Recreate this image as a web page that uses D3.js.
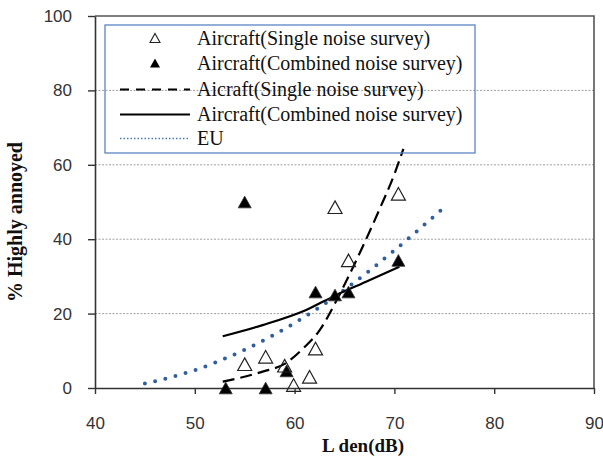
<!DOCTYPE html>
<html lang="en">
<head>
<meta charset="UTF-8">
<title>% Highly annoyed vs Lden</title>
<script src="https://d3js.org/d3.v7.min.js"></script>
<style>
    body { margin: 0; background: #fff; }
    svg { display: block; }
    .tick text { font-family: "Liberation Sans", Arial, sans-serif; font-size: 17px; fill: #333; }
    .legend text { font-family: "Liberation Serif", "Times New Roman", serif; font-size: 20px; fill: #111; }
    .axis-title { font-family: "Liberation Serif", "Times New Roman", serif; font-weight: bold; font-size: 19px; fill: #111; }
</style>
</head>
<body>
<div id="chart"></div>
<script>
    // observed points (Lden dB, %HA)
    const singleX = [55.0, 57.1, 59.0, 59.9, 61.5, 62.1, 65.4, 64.05, 70.4];
    const singleY = [6.4, 8.4, 6.0, 0.8, 3.0, 10.6, 34.3, 48.6, 52.2];
    const combinedX = [55.0, 53.1, 57.1, 59.2, 62.1, 64.05, 65.4, 70.4];
    const combinedY = [50.0, 0.0, 0.0, 4.6, 25.8, 25.0, 25.8, 34.3];

    // fitted curves
    const singleFitX = [52.8, 56.8, 59.0, 61.0, 62.5, 64.0, 65.5, 67.0, 68.5, 70.0, 70.9];
    const singleFitY = [1.7, 4.4, 6.5, 11.0, 15.5, 22.5, 30.5, 39.0, 48.0, 57.5, 64.3];
    const combinedFitX = [52.8, 56.8, 61.1, 64.1, 67.1, 70.5];
    const combinedFitY = [13.9, 16.9, 20.9, 24.9, 28.5, 32.6];
    const euX = [45, 50, 55, 60, 65, 70, 75];
    const euY = [1.2, 4.8, 10.3, 17.5, 26.4, 37.0, 48.6];

    const xTicks = [40, 50, 60, 70, 80, 90];
    const yTicks = [0, 20, 40, 60, 80, 100];
    const gridY = [20, 40, 60, 80];

    const legendLabels = [
        "Aircraft(Single noise survey)",
        "Aircraft(Combined noise survey)",
        "Aicraft(Single noise survey)",
        "Aircraft(Combined noise survey)",
        "EU"
    ];

    const width = 603, height = 457;
    const svg = d3.select("#chart").append("svg")
        .attr("width", width)
        .attr("height", height);

    const x = d3.scaleLinear().domain([40, 90]).range([95, 594]);
    const y = d3.scaleLinear().domain([0, 100]).range([388, 16]);

    // gridlines
    svg.append("g").selectAll("line")
        .data(gridY)
        .enter().append("line")
        .attr("x1", x(40)).attr("x2", x(90))
        .attr("y1", d => y(d)).attr("y2", d => y(d))
        .attr("stroke", "#a0a0a0")
        .attr("stroke-width", 1)
        .attr("stroke-dasharray", "2,1.5");

    // frame (top + right)
    svg.append("path")
        .attr("d", `M${x(40)},${y(100)}H${x(90)}V${y(0)}`)
        .attr("fill", "none")
        .attr("stroke", "#555")
        .attr("stroke-width", 1.6);

    const yAxis = svg.append("g")
        .attr("transform", `translate(${x(40)},0)`)
        .call(d3.axisLeft(y).tickValues(yTicks).tickSize(7).tickSizeOuter(0).tickPadding(16));
    const xAxis = svg.append("g")
        .attr("transform", `translate(0,${y(0)})`)
        .call(d3.axisBottom(x).tickValues(xTicks).tickSize(6).tickSizeOuter(0).tickPadding(23));
    [yAxis, xAxis].forEach(a => {
        a.select(".domain").attr("stroke", "#333").attr("stroke-width", 1.6);
        a.selectAll(".tick line").attr("stroke", "#333").attr("stroke-width", 1.4);
    });

    // axis titles
    const xt = svg.append("text")
        .attr("class", "axis-title")
        .attr("x", 363).attr("y", 452)
        .attr("text-anchor", "middle");
    xt.append("tspan").text("L");
    xt.append("tspan").attr("dx", 4).text("den(dB)");

    svg.append("text")
        .attr("class", "axis-title")
        .attr("transform", "translate(22,222) rotate(-90)")
        .attr("text-anchor", "middle")
        .style("font-size", "20px")
        .attr("textLength", 160)
        .attr("lengthAdjust", "spacingAndGlyphs")
        .text("% Highly annoyed");

    function tri(w) {
        const h = w * 0.9;
        return `M0,${-h / 2}L${w / 2},${h / 2}L${-w / 2},${h / 2}Z`;
    }

    // curves
    const line = d3.line().x(d => x(d[0])).y(d => y(d[1])).curve(d3.curveMonotoneX);

    svg.append("path")
        .datum(d3.zip(euX, euY))
        .attr("d", line)
        .attr("fill", "none")
        .attr("stroke", "#2f5f9f")
        .attr("stroke-width", 4)
        .attr("stroke-linecap", "round")
        .attr("stroke-dasharray", "0,10.5");

    svg.append("path")
        .datum(d3.zip(singleFitX, singleFitY))
        .attr("d", line)
        .attr("fill", "none")
        .attr("stroke", "#000")
        .attr("stroke-width", 2.2)
        .attr("stroke-dasharray", "12,6");

    svg.append("path")
        .datum(d3.zip(combinedFitX, combinedFitY))
        .attr("d", line)
        .attr("fill", "none")
        .attr("stroke", "#000")
        .attr("stroke-width", 2.2);

    // markers
    svg.append("g").selectAll("path")
        .data(d3.zip(combinedX, combinedY))
        .enter().append("path")
        .attr("d", tri(13))
        .attr("transform", d => `translate(${x(d[0])},${y(d[1])})`)
        .attr("fill", "#000")
        .attr("stroke", "#333")
        .attr("stroke-width", 0.8);

    svg.append("g").selectAll("path")
        .data(d3.zip(singleX, singleY))
        .enter().append("path")
        .attr("d", tri(14))
        .attr("transform", d => `translate(${x(d[0])},${y(d[1])})`)
        .attr("fill", "none")
        .attr("stroke", "#222")
        .attr("stroke-width", 1.2);

    // legend
    const legend = svg.append("g").attr("class", "legend");
    legend.append("rect")
        .attr("x", 105).attr("y", 25)
        .attr("width", 370).attr("height", 128)
        .attr("fill", "none")
        .attr("stroke", "#5b84c4")
        .attr("stroke-width", 1.3);

    const rowY = [38, 63, 89.5, 114.5, 138.5];
    legend.selectAll("text")
        .data(legendLabels)
        .enter().append("text")
        .attr("x", 197)
        .attr("y", (d, i) => rowY[i] + 6.5)
        .text(d => d);

    legend.append("path").attr("d", tri(10))
        .attr("transform", `translate(155,${rowY[0]})`)
        .attr("fill", "none").attr("stroke", "#222").attr("stroke-width", 1.1);
    legend.append("path").attr("d", tri(10))
        .attr("transform", `translate(155,${rowY[1]})`)
        .attr("fill", "#000");
    legend.append("line")
        .attr("x1", 120).attr("x2", 190).attr("y1", rowY[2]).attr("y2", rowY[2])
        .attr("stroke", "#000").attr("stroke-width", 2).attr("stroke-dasharray", "9,7");
    legend.append("line")
        .attr("x1", 120).attr("x2", 190).attr("y1", rowY[3]).attr("y2", rowY[3])
        .attr("stroke", "#000").attr("stroke-width", 2);
    legend.append("line")
        .attr("x1", 120).attr("x2", 190).attr("y1", rowY[4]).attr("y2", rowY[4])
        .attr("stroke", "#4a78b8").attr("stroke-width", 1.5).attr("stroke-dasharray", "1.5,2");
</script>
</body>
</html>
